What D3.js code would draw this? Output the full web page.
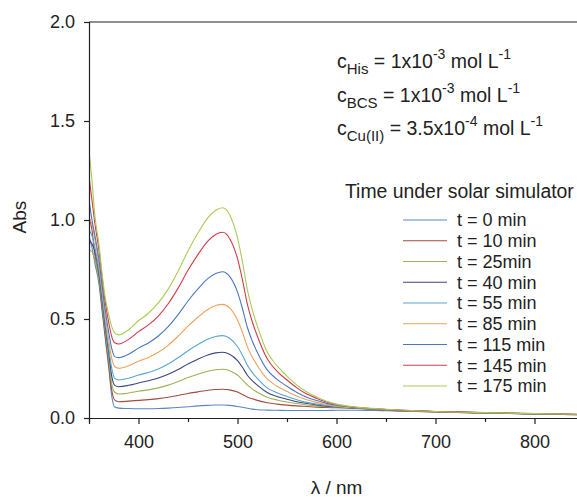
<!DOCTYPE html>
<html>
<head>
<meta charset="utf-8">
<script src="https://cdn.jsdelivr.net/npm/d3@7/dist/d3.min.js"></script>
<style>
  body { margin: 0; background: #fff; }
  text { font-family: "Liberation Sans", Arial, sans-serif; fill: #222; }
</style>
</head>
<body>
<svg id="chart" width="577" height="497"></svg>
<script>
// ---------- data ----------
const wavelengths = [350, 353, 356, 360, 363, 366, 370, 373, 376, 380, 390, 400, 410, 420, 430, 440, 450, 460, 470, 478, 485, 492, 500, 505, 510, 515, 520, 530, 540, 550, 560, 570, 580, 590, 600, 620, 650, 700, 750, 800, 850];

const abs_t0   = [0.92, 0.86, 0.78, 0.68, 0.55, 0.42, 0.25, 0.11, 0.055, 0.050, 0.048, 0.047, 0.047, 0.048, 0.050, 0.053, 0.057, 0.061, 0.064, 0.066, 0.066, 0.064, 0.058, 0.054, 0.049, 0.045, 0.042, 0.040, 0.039, 0.038, 0.038, 0.038, 0.038, 0.038, 0.039, 0.039, 0.037, 0.030, 0.025, 0.020, 0.016];
const abs_t10  = [1.02, 0.95, 0.82, 0.70, 0.57, 0.44, 0.27, 0.14, 0.09, 0.082, 0.085, 0.089, 0.093, 0.098, 0.105, 0.114, 0.124, 0.132, 0.140, 0.144, 0.145, 0.142, 0.131, 0.119, 0.106, 0.097, 0.089, 0.077, 0.070, 0.065, 0.061, 0.058, 0.055, 0.053, 0.052, 0.048, 0.040, 0.031, 0.025, 0.020, 0.016];
const abs_t25  = [0.85, 0.84, 0.80, 0.70, 0.59, 0.46, 0.30, 0.17, 0.13, 0.121, 0.126, 0.135, 0.142, 0.152, 0.166, 0.184, 0.204, 0.221, 0.236, 0.244, 0.246, 0.239, 0.217, 0.193, 0.166, 0.146, 0.130, 0.105, 0.091, 0.081, 0.073, 0.066, 0.061, 0.057, 0.054, 0.049, 0.041, 0.032, 0.026, 0.021, 0.017];
const abs_t40  = [0.90, 0.88, 0.84, 0.73, 0.61, 0.48, 0.33, 0.21, 0.165, 0.158, 0.165, 0.177, 0.188, 0.202, 0.221, 0.245, 0.273, 0.297, 0.318, 0.329, 0.332, 0.322, 0.290, 0.256, 0.216, 0.188, 0.166, 0.129, 0.109, 0.095, 0.082, 0.073, 0.066, 0.060, 0.056, 0.050, 0.041, 0.032, 0.026, 0.021, 0.017];
const abs_t55  = [0.95, 0.92, 0.86, 0.75, 0.63, 0.50, 0.35, 0.25, 0.20, 0.192, 0.201, 0.217, 0.230, 0.248, 0.273, 0.304, 0.340, 0.371, 0.398, 0.412, 0.416, 0.403, 0.361, 0.317, 0.266, 0.229, 0.200, 0.152, 0.127, 0.109, 0.092, 0.079, 0.070, 0.063, 0.057, 0.051, 0.042, 0.032, 0.026, 0.021, 0.017];
const abs_t85  = [1.00, 0.98, 0.90, 0.78, 0.66, 0.53, 0.39, 0.30, 0.26, 0.251, 0.264, 0.287, 0.306, 0.332, 0.367, 0.413, 0.464, 0.509, 0.548, 0.568, 0.574, 0.556, 0.495, 0.433, 0.359, 0.307, 0.265, 0.197, 0.160, 0.134, 0.110, 0.092, 0.079, 0.068, 0.060, 0.052, 0.042, 0.032, 0.026, 0.021, 0.017];
const abs_t115 = [1.10, 1.00, 0.92, 0.80, 0.68, 0.56, 0.43, 0.35, 0.31, 0.305, 0.322, 0.353, 0.379, 0.414, 0.461, 0.522, 0.591, 0.652, 0.704, 0.730, 0.739, 0.715, 0.636, 0.553, 0.457, 0.388, 0.332, 0.243, 0.195, 0.160, 0.129, 0.105, 0.088, 0.074, 0.064, 0.053, 0.043, 0.033, 0.026, 0.021, 0.017];
const abs_t145 = [1.22, 1.10, 0.98, 0.85, 0.72, 0.60, 0.48, 0.41, 0.38, 0.374, 0.397, 0.436, 0.470, 0.515, 0.577, 0.656, 0.746, 0.825, 0.893, 0.927, 0.938, 0.907, 0.805, 0.698, 0.574, 0.485, 0.414, 0.299, 0.236, 0.192, 0.152, 0.121, 0.099, 0.081, 0.068, 0.054, 0.043, 0.033, 0.027, 0.022, 0.018];
const abs_t175 = [1.35, 1.20, 1.02, 0.88, 0.74, 0.62, 0.52, 0.46, 0.43, 0.420, 0.446, 0.491, 0.529, 0.581, 0.651, 0.741, 0.844, 0.934, 1.011, 1.049, 1.062, 1.027, 0.910, 0.789, 0.647, 0.546, 0.465, 0.333, 0.263, 0.212, 0.166, 0.131, 0.106, 0.085, 0.070, 0.055, 0.044, 0.033, 0.027, 0.022, 0.018];

const legendLabels = ["t = 0 min", "t = 10 min", "t = 25min", "t = 40 min", "t = 55 min", "t = 85 min", "t = 115 min", "t = 145 min", "t = 175 min"];
const seriesColors = ["#5a86c4", "#a44a3e", "#9cb255", "#3c4680", "#58a6cc", "#eea35a", "#4a78c0", "#d23a4c", "#a8cc55"];
const xTicks = [400, 500, 600, 700, 800];
const xMinorTicks = [350, 450, 550, 650, 750];
const yTicks = [0.0, 0.5, 1.0, 1.5, 2.0];

const seriesValues = [abs_t0, abs_t10, abs_t25, abs_t40, abs_t55, abs_t85, abs_t115, abs_t145, abs_t175];

// ---------- layout ----------
const svg = d3.select("#chart");
const pL = 89, pR = 584, pT = 22, pB = 418;
const x = d3.scaleLinear().domain([350, 850]).range([pL, pR]);
const y = d3.scaleLinear().domain([0, 2]).range([pB, pT]);

svg.append("clipPath").attr("id", "clip")
  .append("rect").attr("x", pL).attr("y", pT).attr("width", pR - pL).attr("height", pB - pT);

const line = d3.line()
  .x(d => x(d[0])).y(d => y(d[1]))
  .curve(d3.curveMonotoneX);

const gLines = svg.append("g").attr("clip-path", "url(#clip)");
seriesValues.forEach((vals, i) => {
  gLines.append("path")
    .datum(wavelengths.map((w, j) => [w, vals[j]]))
    .attr("fill", "none")
    .attr("stroke", seriesColors[i])
    .attr("stroke-width", 1.1)
    .attr("d", line);
});

// axes
svg.append("g").attr("transform", `translate(0,${pB})`)
  .call(d3.axisBottom(x).tickValues(xTicks).tickFormat(d3.format("d")).tickSize(6).tickPadding(11));
svg.append("g").attr("class", "minor").attr("transform", `translate(0,${pB})`)
  .call(d3.axisBottom(x).tickValues(xMinorTicks).tickFormat("").tickSize(4));
svg.select(".minor .domain").remove();
svg.append("g").attr("transform", `translate(${pL},0)`)
  .call(d3.axisLeft(y).tickValues(yTicks).tickFormat(d3.format(".1f")).tickSize(5).tickPadding(9));

svg.selectAll(".domain").attr("stroke", "#222").attr("stroke-width", 1.2);
svg.selectAll(".tick line").attr("stroke", "#222").attr("stroke-width", 1.2);
svg.selectAll(".tick text").style("font-size", "18px").style("fill", "#222")
  .style("font-family", "'Liberation Sans', Arial, sans-serif");

// top frame line
svg.append("line").attr("x1", pL).attr("x2", pR).attr("y1", y(2)).attr("y2", y(2))
  .attr("stroke", "#222").attr("stroke-width", 1.2);

// axis titles
svg.append("text").attr("transform", `translate(26,217) rotate(-90)`)
  .attr("text-anchor", "middle").style("font-size", "19px").text("Abs");
svg.append("text").attr("x", (pL + pR) / 2).attr("y", 494)
  .attr("text-anchor", "middle").style("font-size", "19px").text("λ / nm");

// concentration annotations
const ann = [
  { sub: "His", val: "1x10", exp: "-3", yb: 68 },
  { sub: "BCS", val: "1x10", exp: "-3", yb: 102 },
  { sub: "Cu(II)", val: "3.5x10", exp: "-4", yb: 135 }
];
ann.forEach(a => {
  const t = svg.append("text").attr("x", 337).attr("y", a.yb).style("font-size", "19.5px");
  t.append("tspan").text("c");
  t.append("tspan").attr("dy", 6).style("font-size", "15px").text(a.sub);
  t.append("tspan").attr("dy", -6).text(" = " + a.val);
  t.append("tspan").attr("dy", -9).style("font-size", "14px").text(a.exp);
  t.append("tspan").attr("dy", 9).text(" mol L");
  t.append("tspan").attr("dy", -9).style("font-size", "14px").text("-1");
});

// legend
svg.append("text").attr("x", 345).attr("y", 198).style("font-size", "19.4px").text("Time under solar simulator");
legendLabels.forEach((lab, i) => {
  const cy = 220 + i * 20.75;
  svg.append("line").attr("x1", 403).attr("x2", 447).attr("y1", cy).attr("y2", cy)
    .attr("stroke", seriesColors[i]).attr("stroke-width", 1.2);
  svg.append("text").attr("x", 457).attr("y", cy).attr("dy", "0.35em")
    .style("font-size", "18px").text(lab);
});
</script>
</body>
</html>
